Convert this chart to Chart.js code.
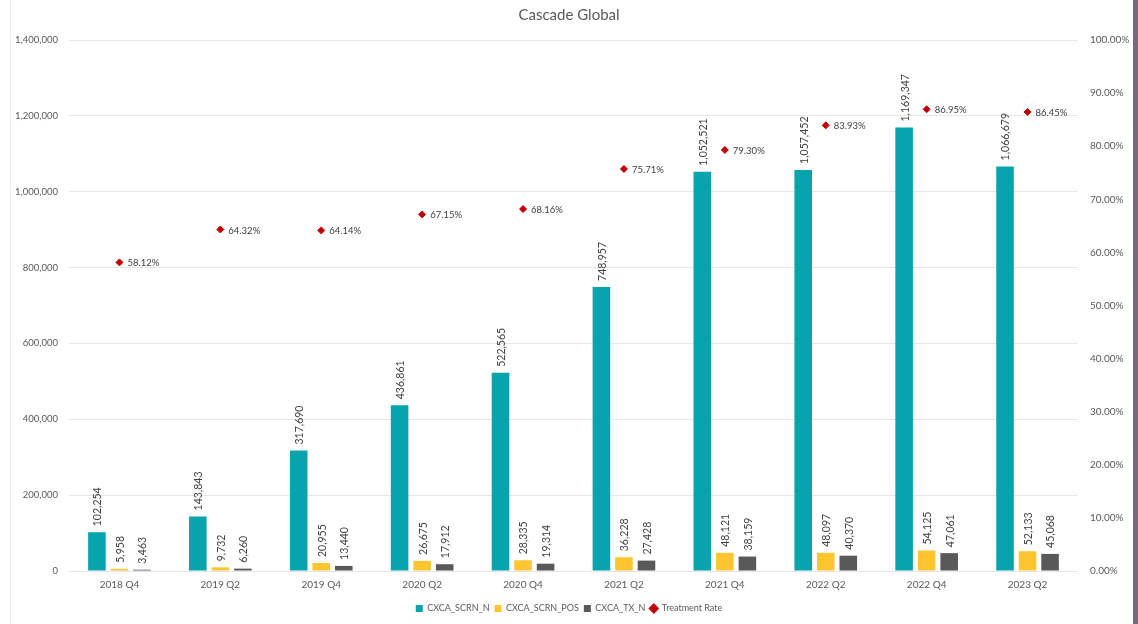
<!DOCTYPE html>
<html>
<head>
<meta charset="utf-8">
<title>Cascade Global</title>
<script src="https://cdn.jsdelivr.net/npm/chart.js@4.4.1/dist/chart.umd.min.js"></script>
<style>
  body { margin: 0; background: #fff; }
  #wrap { position: relative; width: 1138px; height: 624px; overflow: hidden; }
  #leftLine { position: absolute; left: 10px; top: 0; width: 1px; height: 624px; background: #ececec; }
  #rightStrip { position: absolute; right: 0; top: 0; width: 5px; height: 624px; background: #786a7e; }
</style>
</head>
<body>
<div id="wrap">
  <canvas id="myChart" width="1138" height="624"></canvas>
  <div id="leftLine"></div>
  <div id="rightStrip"></div>
</div>
<script>
const quarters = ['2018 Q4', '2019 Q2', '2019 Q4', '2020 Q2', '2020 Q4', '2021 Q2', '2021 Q4', '2022 Q2', '2022 Q4', '2023 Q2'];
const scrnN = [102254, 143843, 317690, 436861, 522565, 748957, 1052521, 1057452, 1169347, 1066679];
const scrnPos = [5958, 9732, 20955, 26675, 28335, 36228, 48121, 48097, 54125, 52133];
const txN = [3463, 6260, 13440, 17912, 19314, 27428, 38159, 40370, 47061, 45068];
const treatmentRate = [58.12, 64.32, 64.14, 67.15, 68.16, 75.71, 79.30, 83.93, 86.95, 86.45];

const fontName = 'Lato, "Open Sans", sans-serif';

// label angka di atas bar (diputar) dan di kanan titik treatment rate
const labelPlugin = {
  id: 'valueLabels',
  afterDatasetsDraw(chart) {
    const ctx = chart.ctx;
    ctx.save();
    ctx.fillStyle = '#404040';
    chart.data.datasets.forEach((ds, i) => {
      const meta = chart.getDatasetMeta(i);
      meta.data.forEach((el, j) => {
        if (ds.type === 'line') {
          ctx.font = '9.5px ' + fontName;
          ctx.textAlign = 'left';
          ctx.textBaseline = 'middle';
          ctx.fillText(ds.data[j].toFixed(2) + '%', el.x + 8, el.y + 1);
        } else {
          ctx.save();
          ctx.font = '10.5px ' + fontName;
          ctx.translate(el.x + 1, el.y - 6);
          ctx.rotate(-Math.PI / 2);
          ctx.textAlign = 'left';
          ctx.textBaseline = 'middle';
          ctx.fillText(ds.data[j].toLocaleString('en-US'), 0, 0);
          ctx.restore();
        }
      });
    });
    ctx.restore();
  }
};

const ctx = document.getElementById('myChart').getContext('2d');
const myChart = new Chart(ctx, {
  type: 'bar',
  data: {
    labels: quarters,
    datasets: [
      {
        type: 'line',
        label: 'Treatment Rate',
        data: treatmentRate,
        yAxisID: 'y1',
        showLine: false,
        pointStyle: 'rectRot',
        pointRadius: 3.5,
        pointBackgroundColor: '#c00000',
        pointBorderColor: '#c00000',
        backgroundColor: '#c00000',
        borderColor: '#c00000',
        order: 0
      },
      {
        label: 'CXCA_SCRN_N',
        data: scrnN,
        backgroundColor: '#08a4ad',
        pointStyle: 'rect',
        yAxisID: 'y',
        order: 1
      },
      {
        label: 'CXCA_SCRN_POS',
        data: scrnPos,
        backgroundColor: '#fdc52f',
        pointStyle: 'rect',
        yAxisID: 'y',
        order: 1
      },
      {
        label: 'CXCA_TX_N',
        data: txN,
        backgroundColor: '#595959',
        pointStyle: 'rect',
        yAxisID: 'y',
        order: 1
      }
    ]
  },
  options: {
    responsive: false,
    animation: false,
    layout: { padding: { left: 0, right: 0, top: 4, bottom: 1 } },
    datasets: {
      bar: { categoryPercentage: 0.67, barPercentage: 0.78 }
    },
    scales: {
      x: {
        grid: { display: false, drawTicks: false },
        border: { display: false },
        ticks: { color: '#595959', font: { family: fontName, size: 10 }, padding: 8, maxRotation: 0 }
      },
      y: {
        position: 'left',
        min: 0,
        max: 1400000,
        grid: { color: '#e6e6e6', drawTicks: false },
        border: { display: false },
        ticks: {
          stepSize: 200000,
          color: '#595959',
          font: { family: fontName, size: 9.5 },
          padding: 11,
          callback: v => v.toLocaleString('en-US')
        },
        afterFit: s => { s.width = 69; }
      },
      y1: {
        position: 'right',
        min: 0,
        max: 100,
        grid: { display: false, drawTicks: false },
        border: { display: false },
        ticks: {
          stepSize: 10,
          color: '#595959',
          font: { family: fontName, size: 10 },
          padding: 12,
          callback: v => v.toFixed(2) + '%'
        },
        afterFit: s => { s.width = 60; }
      }
    },
    plugins: {
      title: {
        display: true,
        text: 'Cascade Global',
        color: '#595959',
        font: { family: fontName, size: 15, weight: 'normal' },
        padding: { top: 2, bottom: 16 }
      },
      legend: {
        position: 'bottom',
        labels: {
          usePointStyle: true,
          boxWidth: 7,
          boxHeight: 7,
          color: '#595959',
          font: { family: fontName, size: 9 },
          padding: 5,
          sort: (a, b) => {
            const rank = { 'CXCA_SCRN_N': 0, 'CXCA_SCRN_POS': 1, 'CXCA_TX_N': 2, 'Treatment Rate': 3 };
            return rank[a.text] - rank[b.text];
          }
        }
      },
      tooltip: { enabled: false }
    }
  },
  plugins: [labelPlugin]
});
</script>
</body>
</html>
